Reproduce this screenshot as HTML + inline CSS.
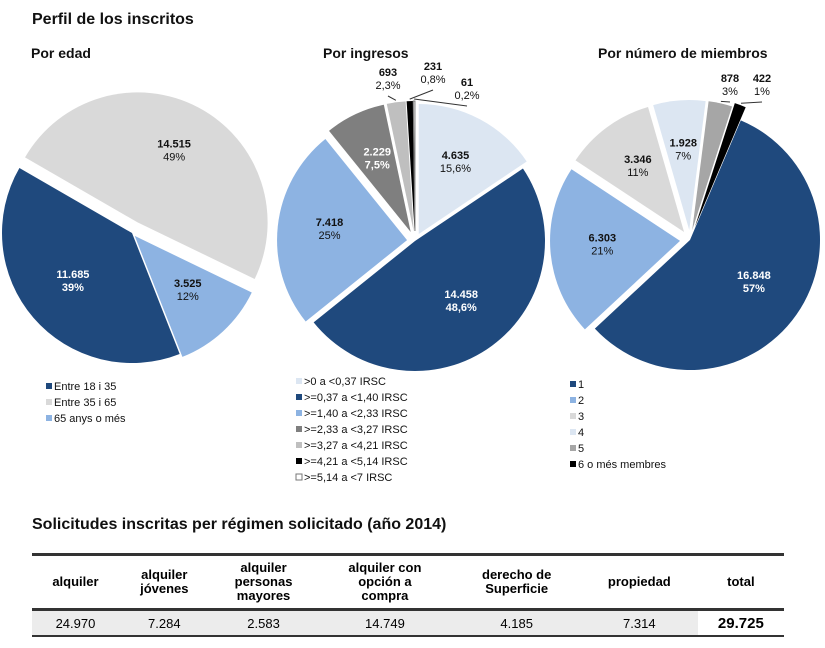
<!DOCTYPE html>
<html><head><meta charset="utf-8">
<style>
body{margin:0;background:#fff;font-family:"Liberation Sans",sans-serif;}
#wrap{position:relative;width:825px;height:648px;overflow:hidden;}
.t{position:absolute;font-weight:bold;color:#111;}
table{position:absolute;left:32px;top:553px;width:752px;border-collapse:collapse;font-family:"Liberation Sans",sans-serif;}
th{font-size:13px;font-weight:bold;line-height:14px;height:50px;border-top:3px solid #333;border-bottom:3px solid #333;text-align:center;}
td{font-size:13px;text-align:center;height:22px;background:#ececec;border-bottom:2px solid #333;}
td.tot{background:#fff;font-weight:bold;font-size:15px;}
</style></head><body>
<div id="wrap">
<div class="t" style="left:32px;top:11px;font-size:16px">Perfil de los inscritos</div>
<div class="t" style="left:31px;top:45px;font-size:14px">Por edad</div>
<div class="t" style="left:323px;top:45px;font-size:14px">Por ingresos</div>
<div class="t" style="left:598px;top:45px;font-size:14px">Por número de miembros</div>
<svg id="svg" width="825" height="520" style="position:absolute;left:0;top:0"></svg>
<div class="t" style="left:32px;top:516px;font-size:16px">Solicitudes inscritas per régimen solicitado (año 2014)</div>
<table>
<tr><th>alquiler</th><th>alquiler<br>jóvenes</th><th>alquiler<br>personas<br>mayores</th><th>alquiler con<br>opción a<br>compra</th><th>derecho de<br>Superficie</th><th>propiedad</th><th>total</th></tr>
<tr><td>24.970</td><td>7.284</td><td>2.583</td><td>14.749</td><td>4.185</td><td>7.314</td><td class="tot">29.725</td></tr>
</table>
</div>
<script>
const ageLabels=["Entre 35  i  65","65 anys o més","Entre 18  i  35"];
const ageValues=[14515,3525,11685];
const agePct=["49%","12%","39%"];
const incLabels=[">0 a <0,37 IRSC",">=0,37 a <1,40 IRSC",">=1,40 a <2,33 IRSC",">=2,33 a <3,27 IRSC",">=3,27 a <4,21 IRSC",">=4,21 a <5,14 IRSC",">=5,14 a <7 IRSC"];
const incValues=[4635,14458,7418,2229,693,231,61];
const incPct=["15,6%","48,6%","25%","7,5%","2,3%","0,8%","0,2%"];
const memLabels=["1","2","3","4","5","6  o més  membres"];
const memValues=[16848,6303,3346,1928,878,422];
const memPct=["57%","21%","11%","7%","3%","1%"];
const NS="http://www.w3.org/2000/svg";
const svg=document.getElementById('svg');
function fmt(v){return v>=1000?Math.floor(v/1000)+"."+String(v%1000).padStart(3,"0"):String(v);}
function mk(t,a){const e=document.createElementNS(NS,t);for(const k in a)e.setAttribute(k,a[k]);svg.appendChild(e);return e;}
function pie(name,cx,cy,r,start,vals,pcts,cols,expl,txtCols,outside,legendX,legendY,legLabels,legCols,legOrder){
 const tot=vals.reduce((a,b)=>a+b,0);let a=start;
 vals.forEach((v,i)=>{
  const sw=v/tot*360,mid=(a+sw/2)*Math.PI/180;
  const ox=Math.sin(mid)*expl[i],oy=-Math.cos(mid)*expl[i];
  const p=d=>[cx+ox+r*Math.sin(d*Math.PI/180),cy+oy-r*Math.cos(d*Math.PI/180)];
  const s=p(a),e=p(a+sw);
  const path=mk('path',{d:`M${cx+ox},${cy+oy}L${s[0]},${s[1]}A${r},${r} 0 ${sw>180?1:0} 1 ${e[0]},${e[1]}Z`,fill:cols[i],stroke:cols[i]==='#fff'?'#777':'none','stroke-width':1});
  
  
  let lx,ly;
  if(outside[i]){lx=outside[i][0];ly=outside[i][1];
   const q=[cx+ox+(r+2)*Math.sin(mid),cy+oy-(r+2)*Math.cos(mid)];
   const ln=mk('line',{x1:q[0],y1:q[1],x2:lx,y2:ly+20,stroke:'#333','stroke-width':1});
   
   
  } else {lx=cx+ox+r*0.6*Math.sin(mid);ly=cy+oy-r*0.6*Math.cos(mid)-6;}
  const t1=mk('text',{x:lx,y:ly,'text-anchor':'middle','font-size':11,'font-weight':'bold',fill:txtCols[i],'font-family':'Liberation Sans, DejaVu Sans, sans-serif'});t1.textContent=fmt(v);
  
  
  const t2=mk('text',{x:lx,y:ly+13,'text-anchor':'middle','font-size':11,fill:txtCols[i],'font-weight':txtCols[i]==='#fff'?'bold':'normal','font-family':'Liberation Sans, DejaVu Sans, sans-serif'});t2.textContent=pcts[i];
  
  
  a+=sw;
 });
 legLabels.forEach((l,j)=>{
  const i=legOrder[j];
  const sq=mk('rect',{x:legendX,y:legendY+j*16-6,width:6,height:6,fill:legCols[i],stroke:legCols[i]==='#fff'?'#777':'none'});
  
  
  const tx=mk('text',{x:legendX+8,y:legendY+j*16+1,'font-size':11,fill:'#111','font-family':'Liberation Sans, sans-serif'});tx.textContent=l;
  
  
 });
}
pie('age',132,233,130,-60,ageValues,agePct,['#d9d9d9','#8db3e2','#1f497d'],[12,4,0],['#111','#111','#fff'],[null,null,null],
 46,389,["Entre 18  i  35","Entre 35  i  65","65 anys o més"],['#d9d9d9','#8db3e2','#1f497d'],[2,0,1]);
pie('income',415,241,130,0,incValues,incPct,['#dce6f2','#1f497d','#8db3e2','#7f7f7f','#bfbfbf','#000','#fff'],[8,0,8,10,10,10,10],
 ['#111','#fff','#111','#fff','#111','#111','#111'],[null,null,null,null,[388,76],[433,70],[467,86]],
 296,384,incLabels,['#dce6f2','#1f497d','#8db3e2','#7f7f7f','#bfbfbf','#000','#fff'],[0,1,2,3,4,5,6]);
pie('members',690,240,130,23,memValues,memPct,['#1f497d','#8db3e2','#d9d9d9','#dce6f2','#a6a6a6','#000'],[0,10,10,10,10,14],
 ['#fff','#111','#111','#111','#111','#111'],[null,null,null,null,[730,82],[762,82]],
 570,387,memLabels,['#1f497d','#8db3e2','#d9d9d9','#dce6f2','#a6a6a6','#000'],[0,1,2,3,4,5]);
</script>
</body></html>
